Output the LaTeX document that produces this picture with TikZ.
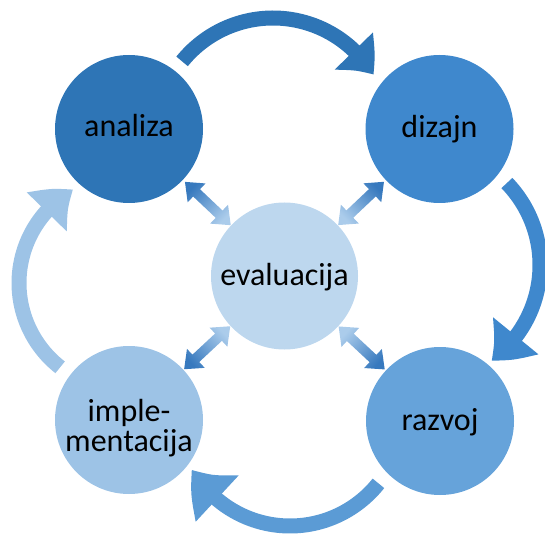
\documentclass[tikz,border=0pt]{standalone}
\usepackage{fontspec}
\setmainfont{Carlito}
\usetikzlibrary{arrows.meta,bending,calc}
\definecolor{cA}{HTML}{2E75B6}
\definecolor{cB}{HTML}{3F88CD}
\definecolor{cC}{HTML}{66A3DA}
\definecolor{cD}{HTML}{9DC3E6}
\definecolor{cE}{HTML}{BDD7EE}
\definecolor{arrC}{HTML}{5B9BD5}
\definecolor{dDark}{HTML}{3779BE}
\definecolor{dLight}{HTML}{ABCCEB}
\begin{document}
\begin{tikzpicture}[x=1pt,y=1pt,
  ball/.style={circle, inner sep=0pt, minimum size=148pt},
  txt/.style={font=\fontsize{32}{30}\selectfont, anchor=base, inner sep=0pt, text=black},
  cyc/.style={line width=15pt},
  dbl/.style={top color=dDark, bottom color=dLight, draw=none}]
\useasboundingbox (0,0) rectangle (545,533);
% curved cycle arrows
\coordinate (cTop) at (273,398);
\coordinate (cRight) at (422,268);
\coordinate (cBot) at (290,120);
\coordinate (cLeft) at (126,250);
\draw[cyc, cA, -{Triangle[width=51pt,length=31pt,bend]}]
  ([shift={(141:117)}]cTop) arc[start angle=141, end angle=31, radius=117];
\draw[cyc, cB, -{Triangle[width=56pt,length=35pt,bend]}]
  ([shift={(44:118)}]cRight) arc[start angle=44, end angle=-54, radius=118];
\draw[cyc, arrC, -{Triangle[width=60pt,length=39pt,bend]}]
  ([shift={(321.5:113)}]cBot) arc[start angle=321.5, end angle=210, radius=113];
\draw[cyc, cD, -{Triangle[width=53pt,length=35pt,bend]}]
  ([shift={(232:107)}]cLeft) arc[start angle=232, end angle=119.5, radius=107];
% circles
\node[ball, fill=cA] (an) at (129,404) {};
\node[ball, fill=cB] (di) at (439.5,404) {};
\node[ball, fill=cC] (ra) at (440,112) {};
\node[ball, fill=cD] (im) at (129,113) {};
\node[ball, fill=cE, minimum size=147pt] (ev) at (284.5,257) {};
% double arrows
\foreach \t/\a/\s in {an/136.6/46.6, di/43.4/-46.6, im/223.0/133.0, ra/317.0/227.0} {
  \begin{scope}[shift={($(ev)!74pt!(\t)$)}, rotate=\a]
    \shade[dbl, shading angle=\s] (0,0) -- (16,13) -- (16,5) -- (47,5) -- (47,13)
      -- (63,0) -- (47,-13) -- (47,-5) -- (16,-5) -- (16,-13) -- cycle;
  \end{scope}
}
% texts
\node[txt] at ($(an)+(0,-8)$) {analiza};
\node[txt] at ($(di)+(0,-9)$) {dizajn};
\node[txt] at ($(ev)+(0,-9.5)$) {evaluacija};
\node[txt] at ($(ra)+(0,-9.5)$) {razvoj};
\node[txt] at ($(im)+(0,-1.7)$) {imple-};
\node[txt] at ($(im)+(0,-31.7)$) {mentacija};
\end{tikzpicture}
\end{document}
